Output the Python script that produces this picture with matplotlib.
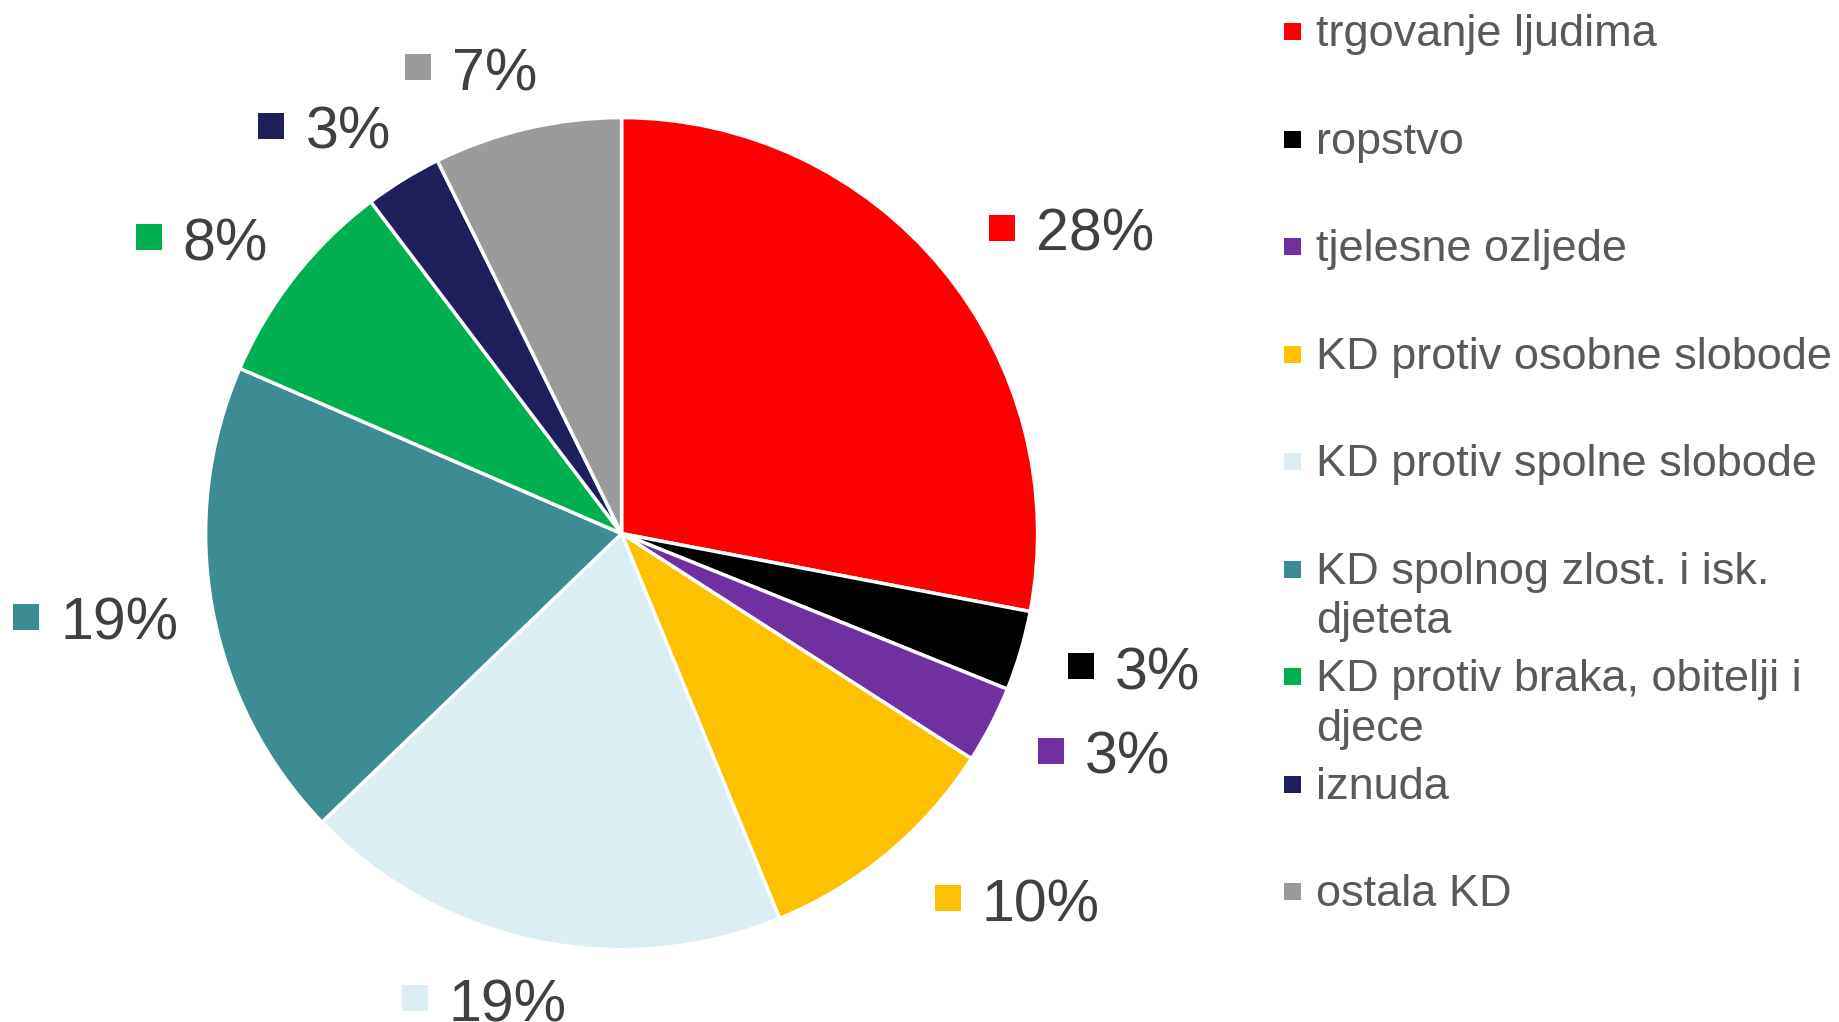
import numpy as np
import matplotlib.pyplot as plt
from matplotlib.patches import Rectangle
from matplotlib.transforms import IdentityTransform

plt.rcParams['font.family'] = ['Liberation Sans', 'DejaVu Sans']

# podaci (udjeli u %)
categories = ['trgovanje ljudima', 'ropstvo', 'tjelesne ozljede', 'KD protiv osobne slobode',
              'KD protiv spolne slobode', 'KD spolnog zlost. i isk.\ndjeteta',
              'KD protiv braka, obitelji i\ndjece', 'iznuda', 'ostala KD']
shares = [28.0, 3.1, 3.0, 9.7, 19.0, 18.7, 8.2, 3.0, 7.3]
colors = ['#FF0000', '#000000', '#7030A0', '#FFC000', '#DAEEF3',
          '#3D8C93', '#00B050', '#1F1F5C', '#9B9B9B']

W, H = 1839, 1022
R_PX = 416              # radijus pite u pikselima
CX, CY = 621.6, 488.4   # centar pite (od donjeg lijevog kuta)

fig = plt.figure(figsize=(W / 100, H / 100), dpi=100)
ax = fig.add_axes([0, 0, 1, 1])

wedges, _ = ax.pie(shares, colors=colors, startangle=90, counterclock=False, radius=1,
                   wedgeprops=dict(edgecolor='white', linewidth=2.5))
ax.set_aspect('auto')
ax.set_xlim(-CX / R_PX, (W - CX) / R_PX)
ax.set_ylim(-CY / R_PX, (H - CY) / R_PX)
ax.axis('off')

renderer = fig.canvas.get_renderer()
px = IdentityTransform()

# postotci izvan pite, s kvadraticem u boji isjecka
lab_size = 42.5
cap = 0.716 * lab_size * 100 / 72
sq = 26
sq_gap = 21
gap = 61
for w, val, col in zip(wedges, shares, colors):
    th = np.deg2rad((w.theta1 + w.theta2) / 2)
    ux, uy = np.cos(th), np.sin(th)
    t = fig.text(0, 0, f'{round(val):d}%', fontsize=lab_size, color='#404040',
                 ha='left', va='baseline', transform=px)
    tw = t.get_window_extent(renderer).width
    gw = sq + sq_gap + tw
    gy = CY + (R_PX + gap) * uy
    if ux >= 0:
        left = CX + R_PX * ux + 47
    else:
        c = 35 - 70 * np.sqrt(abs(ux))
        c += 35 * (1 - abs(ux)) if uy < 0 else 15 * (1 - abs(ux)) ** 2
        left = CX + R_PX * ux + c - gw
    fig.patches.append(Rectangle((left, gy - sq / 2 + 2), sq, sq, facecolor=col,
                                 edgecolor='none', transform=px, figure=fig))
    t.set_position((left + sq + sq_gap, gy - cap / 2))

# legenda
leg_size = 32.5
for i, (name, col) in enumerate(zip(categories, colors)):
    base = H - (46 + i * 107.5)
    fig.patches.append(Rectangle((1284, base + 14.3 - 8.5), 17, 17, facecolor=col,
                                 edgecolor='none', transform=px, figure=fig))
    for k, line in enumerate(name.split('\n')):
        fig.text(1316, base - k * 49.5, line, fontsize=leg_size, color='#595959',
                 ha='left', va='baseline', transform=px)

fig.savefig('out.png', dpi=100, facecolor='white')
